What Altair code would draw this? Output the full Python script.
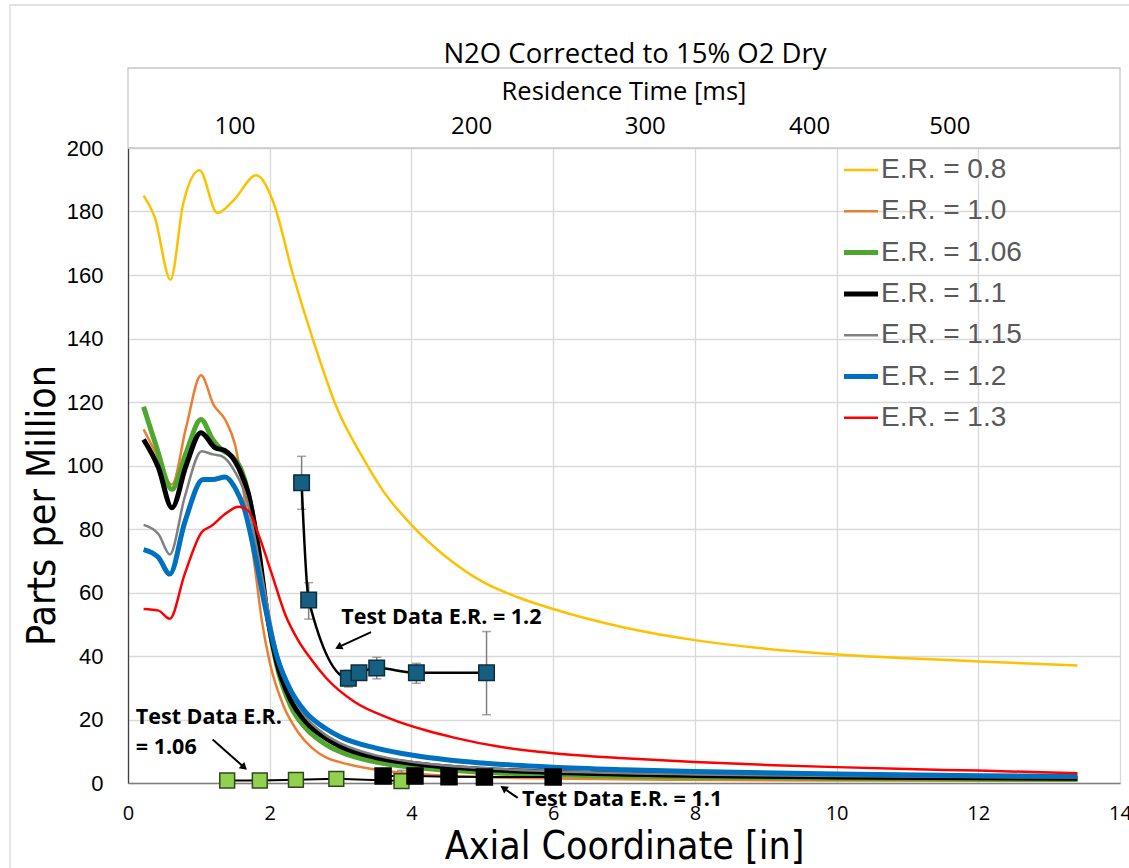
import altair as alt
import pandas as pd

# ---- modelled N2O profiles (ppm, corrected to 15% O2 dry) vs axial coordinate [in] ----
er_names = ["E.R. = 0.8", "E.R. = 1.0", "E.R. = 1.06", "E.R. = 1.1",
            "E.R. = 1.15", "E.R. = 1.2", "E.R. = 1.3"]
er_colors = ["#FFC000", "#ED7D31", "#4EA72E", "#000000", "#808080", "#0070C0", "#FF0000"]
er_widths = [2.5, 2.5, 5, 5, 2.5, 5, 2.5]

x_08 = [0.22, 0.38, 0.6, 0.78, 1.01, 1.26, 1.49, 1.81, 2.05, 2.33, 2.62, 2.95, 3.3, 3.6,
        4.0, 4.5, 5.0, 5.5, 6.0, 7.0, 8.0, 9.0, 10.0, 11.0, 12.0, 13.4]
y_08 = [185, 178, 158.5, 182.5, 193, 179.5, 183.5, 191.4, 183, 160, 139, 118, 103, 92,
        81.3, 71, 63.4, 58.5, 54.8, 49, 45, 42.3, 40.5, 39.3, 38.3, 37]

x_10 = [0.22, 0.38, 0.62, 0.82, 1.03, 1.21, 1.37, 1.51, 1.65, 1.79, 1.89, 2.0, 2.2, 2.4,
        2.6, 2.8, 3.0, 3.5, 4.0, 5.0, 6.0, 8.0, 10.0, 13.4]
y_10 = [111.4, 104.5, 94, 112, 128.4, 119, 114.5, 106.6, 89, 68, 51, 38, 24, 16,
        11, 8, 6.5, 4.2, 3.0, 1.9, 1.4, 1.0, 0.8, 0.7]

x_106 = [0.22, 0.4, 0.62, 0.82, 1.03, 1.2, 1.32, 1.46, 1.61, 1.75, 1.89, 1.98, 2.1, 2.3,
         2.5, 2.8, 3.0, 3.5, 4.0, 5.0, 6.0, 8.0, 10.0, 13.4]
y_106 = [118.5, 106, 92.5, 104, 114.5, 108, 105, 103, 98, 85.7, 64.8, 51, 37, 24,
         17.5, 12, 9.8, 6.6, 5, 3.4, 2.6, 1.9, 1.5, 1.2]

x_11 = [0.22, 0.43, 0.62, 0.82, 1.03, 1.23, 1.37, 1.56, 1.70, 1.84, 1.98, 2.1, 2.3, 2.5,
        2.8, 3.0, 3.5, 4.0, 5.0, 6.0, 8.0, 10.0, 13.4]
y_11 = [108.2, 99.3, 86.7, 100, 110.3, 105.6, 104.7, 99.3, 91, 74, 51, 38, 26, 19.5,
        14, 11.5, 8, 6.2, 4.3, 3.4, 2.4, 1.9, 1.5]

x_115 = [0.22, 0.43, 0.59, 0.8, 1.04, 1.2, 1.32, 1.51, 1.68, 1.8, 1.95, 2.1, 2.3, 2.5,
         2.8, 3.0, 3.5, 4.0, 5.0, 6.0, 8.0, 10.0, 13.4]
y_115 = [81.3, 78.4, 72, 90, 104.5, 103.5, 103, 98, 89, 76, 58, 41, 28.5, 21,
         15, 12.5, 8.7, 6.7, 4.7, 3.7, 2.7, 2.2, 1.7]

x_12 = [0.22, 0.43, 0.59, 0.8, 1.06, 1.21, 1.37, 1.51, 1.65, 1.79, 1.94, 2.1, 2.3, 2.5,
        2.8, 3.0, 3.5, 4.0, 4.5, 5.0, 6.0, 7.0, 8.0, 10.0, 12.0, 13.4]
y_12 = [73.5, 71, 65.8, 82, 95.6, 95.6, 96.4, 93, 85.7, 72, 55, 40, 29, 22.5,
        17, 14.5, 11, 8.8, 7.3, 6.3, 5.0, 4.2, 3.6, 2.8, 2.3, 2.1]

x_13 = [0.22, 0.43, 0.59, 0.8, 1.04, 1.18, 1.37, 1.56, 1.70, 1.84, 2.03, 2.22, 2.4, 2.6,
        2.8, 3.2, 3.7, 4.2, 4.6, 5.25, 6.0, 7.0, 8.0, 9.0, 10.0, 11.0, 12.0, 13.4]
y_13 = [54.8, 54.3, 51.7, 65.8, 79, 81, 84.7, 87, 85.7, 78.4, 65.8, 53, 45, 38.5,
        33, 25.5, 20.3, 16.6, 14.3, 11.4, 9.4, 7.8, 6.6, 5.7, 5.0, 4.4, 3.9, 3.1]

# ---- measured test data ----
t12_x = [2.45, 2.55, 3.11, 3.26, 3.51, 4.07, 5.06]
t12_y = [94.6, 57.6, 33.0, 34.7, 36.2, 34.7, 34.7]
t12_lo = [86.2, 51.6, 30.2, 32.5, 32.8, 31.4, 21.5]
t12_hi = [102.9, 63.1, 35.5, 36.9, 39.6, 37.7, 47.7]

t106_x = [1.40, 1.86, 2.37, 2.94, 3.86]
t106_y = [0.8, 0.8, 1.0, 1.3, 0.6]
t106_lo = [0.8, 0.8, 1.0, 1.3, 0.0]
t106_hi = [0.8, 0.8, 1.0, 1.3, 4.0]

t11_x = [3.60, 4.05, 4.53, 5.03, 6.00]
t11_y = [2.2, 2.2, 2.0, 1.9, 1.9]

# ---- secondary (residence time) scale labels, placed at their axial positions ----
res_ms = ["100", "200", "300", "400", "500"]
res_at_in = [1.51, 4.85, 7.30, 9.62, 11.60]

# ---- callouts ----
note_text = ["Test Data E.R. = 1.2", "Test Data E.R.", "= 1.06", "Test Data E.R. = 1.1"]
note_x = [3.01, 0.11, 0.11, 5.56]
note_y = [52.1, 20.4, 11.0, -5.3]

arrow_x0 = [3.43, 1.195, 5.5]
arrow_y0 = [47.5, 13.7, -4.7]
arrow_x1 = [2.97, 1.64, 5.3]
arrow_y1 = [42.8, 4.9, -1.6]
arrow_angle = [243, 132, 304]

W, H = 992, 635
NARROW = "DejaVu Sans Condensed, Roboto, sans-serif"

curve_sets = [(x_08, y_08), (x_10, y_10), (x_106, y_106), (x_11, y_11),
              (x_115, y_115), (x_12, y_12), (x_13, y_13)]
rows = []
for name, w, (xs, ys) in zip(er_names, er_widths, curve_sets):
    for xv, yv in zip(xs, ys):
        rows.append({"series": name, "w": w, "x": xv, "y": yv})
curves_df = pd.DataFrame(rows)

t12_df = pd.DataFrame({"x": t12_x, "y": t12_y, "lo": t12_lo, "hi": t12_hi})
t106_df = pd.DataFrame({"x": t106_x, "y": t106_y, "lo": t106_lo, "hi": t106_hi})
t11_df = pd.DataFrame({"x": t11_x, "y": t11_y})
res_df = pd.DataFrame({"x": res_at_in, "label": res_ms})
note_df = pd.DataFrame({"x": note_x, "y": note_y, "t": note_text})
arrow_df = pd.DataFrame({"x": arrow_x0, "y": arrow_y0, "x2": arrow_x1, "y2": arrow_y1,
                         "angle": arrow_angle})
one = alt.Data(values=[{}])

xscale = alt.Scale(domain=[0, 14], nice=False, zero=False)
yscale = alt.Scale(domain=[0, 200], nice=False)

x_axis = alt.Axis(values=list(range(0, 15, 2)), title="Axial Coordinate [in]", format="d",
                  grid=True, gridColor="#d9d9d9", gridWidth=1.3,
                  domainColor="#7f7f7f", domainWidth=1.3, ticks=False,
                  labelFont="Open Sans", labelFontSize=20, labelColor="#000000",
                  labelPadding=20, labelFlush=False, labelOverlap=False,
                  titleFont=NARROW, titleFontSize=39,
                  titleFontWeight="normal", titleColor="#000000",
                  titleBaseline="middle", titleY=63)
y_axis = alt.Axis(values=list(range(0, 201, 20)), title="Parts per Million", format="d",
                  grid=True, gridColor="#d9d9d9", gridWidth=1.3,
                  domainColor="#404040", domainWidth=1.3, ticks=False,
                  labelFont="Liberation Sans", labelFontSize=22, labelColor="#000000",
                  labelPadding=25, labelFlush=False, labelOverlap=False,
                  titleFont=NARROW, titleFontSize=39,
                  titleFontWeight="normal", titleColor="#000000",
                  titleBaseline="middle", titleAngle=-90, titleX=-86, titleY=357)

# thick legend strokes for the three highlighted ratios
thick_expr = ("indexof(['E.R. = 1.06','E.R. = 1.1','E.R. = 1.2'], datum.value) >= 0 ? 5 : 2.5")
legend = alt.Legend(title=None, orient="none", legendX=719, legendY=8,
                    symbolType="stroke", symbolSize=1156, labelFontSize=28,
                    labelFont="Liberation Sans", labelColor="#595959",
                    labelOffset=6, rowPadding=13.3, padding=0,
                    symbolStrokeWidth=alt.ExprRef(expr=thick_expr))

# outer chart frame and the residence-time header box
frame = alt.Chart(one).mark_rect(fillOpacity=0, stroke="#d9d9d9", strokeWidth=1.3).encode(
    x=alt.value(-118), x2=alt.value(W + 40), y=alt.value(-143), y2=alt.value(H + 120))
header_box = alt.Chart(one).mark_rect(fillOpacity=0, stroke="#c8c8c8", strokeWidth=1.3).encode(
    x=alt.value(0), x2=alt.value(W), y=alt.value(-80), y2=alt.value(0))
title = alt.Chart(one).mark_text(font="Open Sans", fontSize=27.5, color="#000000",
                                 baseline="alphabetic").encode(
    x=alt.value(507), y=alt.value(-85), text=alt.value("N2O Corrected to 15% O2 Dry"))
res_title = alt.Chart(one).mark_text(font="Open Sans", fontSize=25.5, color="#000000",
                                     baseline="middle").encode(
    x=alt.value(496), y=alt.value(-56), text=alt.value("Residence Time [ms]"))
res_labels = alt.Chart(res_df).mark_text(font="Open Sans", fontSize=24, color="#000000",
                                         baseline="middle").encode(
    x=alt.X("x:Q", scale=xscale, axis=x_axis), y=alt.value(-21), text="label:N")

curves = alt.Chart(curves_df).mark_line(interpolate="monotone").encode(
    x=alt.X("x:Q", scale=xscale, axis=x_axis),
    y=alt.Y("y:Q", scale=yscale, axis=y_axis),
    color=alt.Color("series:N", scale=alt.Scale(domain=er_names, range=er_colors),
                    legend=legend),
    strokeWidth=alt.StrokeWidth("w:Q", scale=None, legend=None),
)

err_rule = alt.Chart(t12_df).mark_rule(color="#7f7f7f", strokeWidth=1.5).encode(
    x="x:Q", y=alt.Y("lo:Q", scale=yscale), y2="hi:Q")
err_cap_lo = alt.Chart(t12_df).mark_tick(color="#7f7f7f", thickness=1.5, size=9,
                                          orient="horizontal").encode(x="x:Q", y="lo:Q")
err_cap_hi = alt.Chart(t12_df).mark_tick(color="#7f7f7f", thickness=1.5, size=9,
                                          orient="horizontal").encode(x="x:Q", y="hi:Q")
err106_rule = alt.Chart(t106_df).mark_rule(color="#7f7f7f", strokeWidth=1.5).encode(
    x="x:Q", y=alt.Y("lo:Q", scale=yscale), y2="hi:Q")
err106_cap = alt.Chart(t106_df).mark_tick(color="#7f7f7f", thickness=1.5, size=9,
                                          orient="horizontal").encode(x="x:Q", y="hi:Q")

t12_line = alt.Chart(t12_df).mark_line(color="#000000", strokeWidth=2.5,
                                       interpolate="monotone").encode(x="x:Q", y="y:Q")
t12_pts = alt.Chart(t12_df).mark_point(shape="square", filled=True, size=240,
                                       fill="#156082", stroke="#0d2d3d", strokeWidth=1.5,
                                       opacity=1).encode(x="x:Q", y="y:Q")
t106_line = alt.Chart(t106_df).mark_line(color="#000000", strokeWidth=2).encode(
    x="x:Q", y="y:Q")
t106_pts = alt.Chart(t106_df).mark_point(shape="square", filled=True, size=220,
                                         fill="#92D050", stroke="#2f4a1a", strokeWidth=1.5,
                                         opacity=1).encode(x="x:Q", y="y:Q")
t11_line = alt.Chart(t11_df).mark_line(color="#000000", strokeWidth=2).encode(
    x="x:Q", y="y:Q")
t11_pts = alt.Chart(t11_df).mark_point(shape="square", filled=True, size=240,
                                       fill="#000000", stroke="#000000", opacity=1).encode(
    x="x:Q", y="y:Q")

notes = alt.Chart(note_df).mark_text(font="Open Sans", fontWeight="bold", fontSize=21.5,
                                     align="left", baseline="middle", color="#000000").encode(
    x="x:Q", y="y:Q", text="t:N")
arrow_shaft = alt.Chart(arrow_df).mark_rule(color="#000000", strokeWidth=2).encode(
    x="x:Q", y="y:Q", x2="x2:Q", y2="y2:Q")
arrow_head = alt.Chart(arrow_df).mark_point(shape="triangle-up", filled=True, size=70,
                                            color="#000000", opacity=1).encode(
    x="x2:Q", y="y2:Q", angle=alt.Angle("angle:Q", scale=None))

chart = alt.layer(
    frame, header_box, title, res_title, res_labels,
    curves,
    err_rule, err_cap_lo, err_cap_hi, err106_rule, err106_cap,
    t106_line, t11_line, t12_line, t106_pts, t11_pts, t12_pts,
    arrow_shaft, arrow_head, notes,
).properties(
    width=W, height=H,
    autosize=alt.AutoSizeParams(type="none"),
    padding={"left": 128, "top": 148, "right": 9, "bottom": 85},
    background="#ffffff",
).configure_view(stroke=None)

chart.save("out.html", embed_options={"renderer": "svg", "actions": False})
